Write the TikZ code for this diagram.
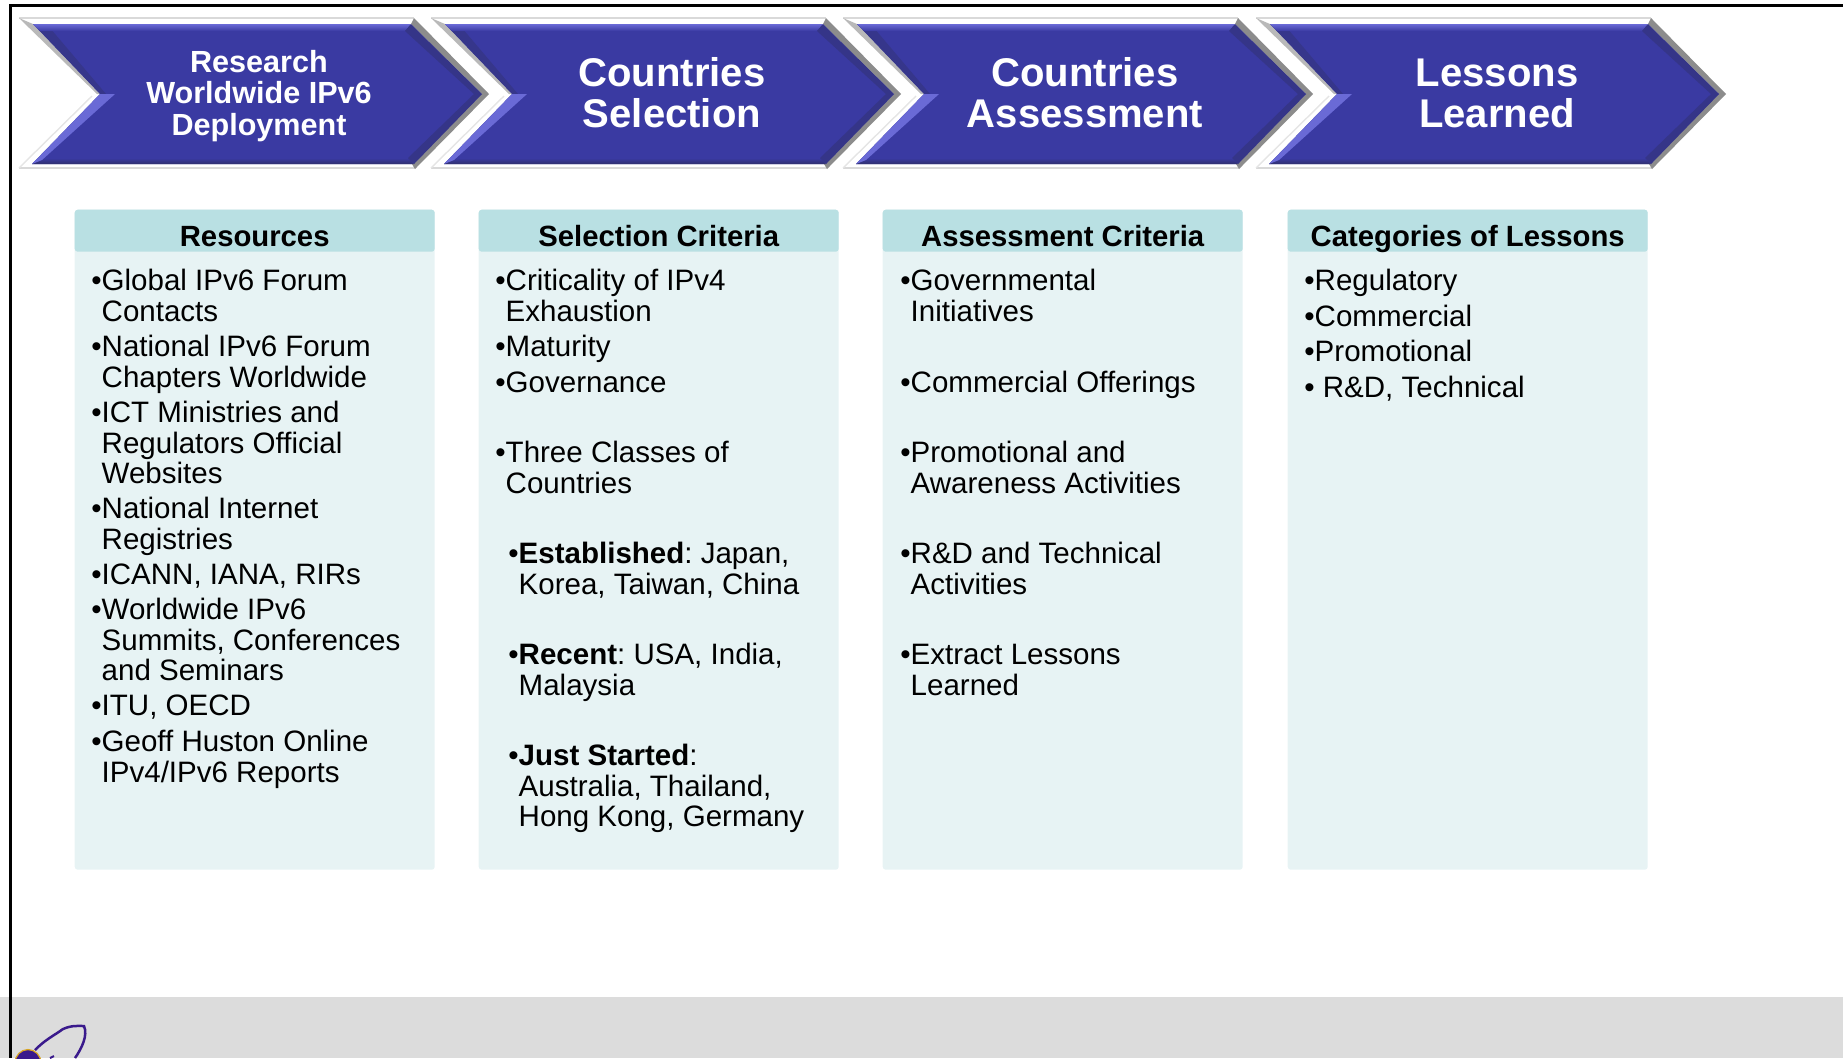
\documentclass[tikz,border=0pt]{standalone}
\usepackage{fontspec}
\setmainfont{Liberation Sans}
\definecolor{arrowblue}{HTML}{3A3AA2}
\definecolor{arrowlight}{HTML}{6A6AD6}
\definecolor{arrowdark}{HTML}{30306E}
\definecolor{arrowgray}{HTML}{8C8C8C}
\definecolor{headteal}{HTML}{B9E0E3}
\definecolor{bodyteal}{HTML}{E7F3F4}
\definecolor{bandgray}{HTML}{DCDCDC}
\definecolor{rocketpurple}{HTML}{3A1A8C}
\definecolor{rocketgold}{HTML}{D9A520}
\tikzset{
	bigtitle/.style={align=center,text=white,font=\fontsize{11.4}{11.7}\selectfont\bfseries},
	smalltitle/.style={align=center,text=white,font=\fontsize{8.7}{8.9}\selectfont\bfseries},
	bodybox/.style={anchor=north west,fill=bodyteal,rounded corners=0.03cm,minimum width=3.6cm,minimum height=6.6cm},
	headbox/.style={anchor=north west,fill=headteal,rounded corners=0.03cm,minimum width=3.6cm,inner ysep=0.055cm,text height=0.31cm,text depth=0cm,font=\fontsize{8.33}{8.6}\selectfont\bfseries},
	item/.style={anchor=north west,align=left,inner sep=0pt,yshift=0.12cm,font=\fontsize{8.4}{8.66}\selectfont\frenchspacing}
}
\newcommand{\itm}{\leavevmode\rule{0pt}{0.22cm}\llap{\textbullet}}
\newcommand{\drawchevron}[1]{%
	\begin{scope}[xshift=#1cm]
		\draw[gray!30,line width=0.4pt] (0.19,-0.18) -- (4.14,-0.18);
		\draw[gray!30,line width=0.4pt] (0.19,-1.68) -- (4.15,-1.68);
		\draw[gray!20,line width=0.4pt] (0.19,-1.68) -- (0.92,-0.96);
		\fill[arrowblue] (0.33,-0.24) -- (4.09,-0.24) -- (4.82,-0.94) -- (4.14,-1.64) -- (0.32,-1.64) -- (1.00,-0.94) -- cycle;
		\fill[gray!55] (0.19,-0.18) -- (0.33,-0.24) -- (1.00,-0.94) -- (0.97,-0.94) -- cycle;
		\fill[arrowdark!45!arrowblue] (0.33,-0.24) -- (1.00,-0.94) -- (1.06,-0.94) -- (0.50,-0.28) -- cycle;
		\fill[arrowgray] (4.14,-0.18) -- (4.89,-0.94) -- (4.15,-1.69) -- (4.12,-1.64) -- (4.82,-0.94) -- (4.11,-0.24) -- cycle;
		\shade[top color=arrowlight,bottom color=arrowblue] (0.33,-0.24) -- (4.11,-0.24) -- (4.05,-0.31) -- (0.40,-0.31) -- cycle;
		\shade[top color=arrowblue,bottom color=arrowdark] (0.40,-1.58) -- (4.08,-1.58) -- (4.14,-1.64) -- (0.32,-1.64) -- cycle;
		\fill[arrowlight] (0.32,-1.64) -- (1.00,-0.94) -- (1.15,-0.94) -- (0.42,-1.60) -- cycle;
		\fill[arrowdark!50!arrowblue] (4.82,-0.94) -- (4.14,-1.64) -- (4.08,-1.58) -- (4.74,-0.94) -- cycle;
		\fill[arrowdark!50!arrowblue] (4.82,-0.94) -- (4.11,-0.24) -- (4.05,-0.31) -- (4.74,-0.94) -- cycle;
	\end{scope}}
\begin{document}
\begin{tikzpicture}
	\useasboundingbox (0,0) rectangle (18.43,-10.58);
	\clip (0,0) rectangle (18.43,-10.58);

	\fill[bandgray] (0,-9.97) rectangle (18.43,-10.58);
	\coordinate (frame-top) at (18.43,-0.05);
	\coordinate (frame-corner) at (0.10,-0.05);
	\coordinate (frame-bottom) at (0.10,-10.58);
	\draw[line width=0.03cm] (frame-top) -- (frame-corner) -- (frame-bottom);

	% logo, cut by the page
	\draw[rocketpurple,line width=0.025cm] (0.35,-10.50) .. controls (0.45,-10.40) and (0.50,-10.38) .. (0.63,-10.29) .. controls (0.72,-10.25) and (0.78,-10.26) .. (0.84,-10.26) .. controls (0.88,-10.35) and (0.82,-10.48) .. (0.75,-10.58);
	\draw[rocketpurple,line width=0.02cm] (0.50,-10.58) -- (0.54,-10.56);
	\draw[rocketgold,fill=rocketpurple,line width=0.012cm] (0.28,-10.63) ellipse (0.13cm and 0.135cm);

	\drawchevron{0}
	\drawchevron{4.12}
	\drawchevron{8.24}
	\drawchevron{12.37}

	\node[smalltitle] (research) at (2.59,-0.96) {Research\\Worldwide IPv6\\Deployment};
	\node[bigtitle] (selection) at (6.72,-0.93) {Countries\\Selection};
	\node[bigtitle] (assessment) at (10.85,-0.93) {Countries\\Assessment};
	\node[bigtitle] (lessons) at (14.97,-0.93) {Lessons\\Learned};

	\node[bodybox] (res-box) at (0.74,-2.09) {};
	\node[bodybox] (sel-box) at (4.78,-2.09) {};
	\node[bodybox] (ass-box) at (8.82,-2.09) {};
	\node[bodybox] (cat-box) at (12.87,-2.09) {};

	\node[headbox] (res-head) at (0.74,-2.09) {Resources};
	\node[headbox] (sel-head) at (4.78,-2.09) {Selection Criteria};
	\node[headbox] (ass-head) at (8.82,-2.09) {Assessment Criteria};
	\node[headbox] (cat-head) at (12.87,-2.09) {Categories of Lessons};

	\node[item] (res-a) at (1.01,-2.80) {\itm Global IPv6 Forum\\Contacts};
	\node[item] (res-b) at (1.01,-3.46) {\itm National IPv6 Forum\\Chapters Worldwide};
	\node[item] (res-c) at (1.01,-4.12) {\itm ICT Ministries and\\Regulators Official\\Websites};
	\node[item] (res-d) at (1.01,-5.08) {\itm National Internet\\Registries};
	\node[item] (res-e) at (1.01,-5.74) {\itm ICANN, IANA, RIRs};
	\node[item] (res-f) at (1.01,-6.09) {\itm Worldwide IPv6\\Summits, Conferences\\and Seminars};
	\node[item] (res-g) at (1.01,-7.05) {\itm ITU, OECD};
	\node[item] (res-h) at (1.01,-7.41) {\itm Geoff Huston Online\\IPv4/IPv6 Reports};

	\node[item] (sel-a) at (5.05,-2.80) {\itm Criticality of IPv4\\Exhaustion};
	\node[item] (sel-b) at (5.05,-3.46) {\itm Maturity};
	\node[item] (sel-c) at (5.05,-3.82) {\itm Governance};
	\node[item] (sel-d) at (5.05,-4.52) {\itm Three Classes of\\Countries};
	\node[item] (sel-e) at (5.18,-5.53) {\itm \textbf{Established}: Japan,\\Korea, Taiwan, China};
	\node[item] (sel-f) at (5.18,-6.54) {\itm \textbf{Recent}: USA, India,\\Malaysia};
	\node[item] (sel-g) at (5.18,-7.55) {\itm \textbf{Just Started}:\\Australia, Thailand,\\Hong Kong, Germany};

	\node[item] (ass-a) at (9.10,-2.80) {\itm Governmental\\Initiatives};
	\node[item] (ass-b) at (9.10,-3.82) {\itm Commercial Offerings};
	\node[item] (ass-c) at (9.10,-4.52) {\itm Promotional and\\Awareness Activities};
	\node[item] (ass-d) at (9.10,-5.53) {\itm R\&D and Technical\\Activities};
	\node[item] (ass-e) at (9.10,-6.54) {\itm Extract Lessons\\Learned};

	\node[item] (cat-a) at (13.14,-2.80) {\itm Regulatory};
	\node[item] (cat-b) at (13.14,-3.16) {\itm Commercial};
	\node[item] (cat-c) at (13.14,-3.51) {\itm Promotional};
	\node[item] (cat-d) at (13.14,-3.87) {\itm\ R\&D, Technical};
\end{tikzpicture}
\end{document}
